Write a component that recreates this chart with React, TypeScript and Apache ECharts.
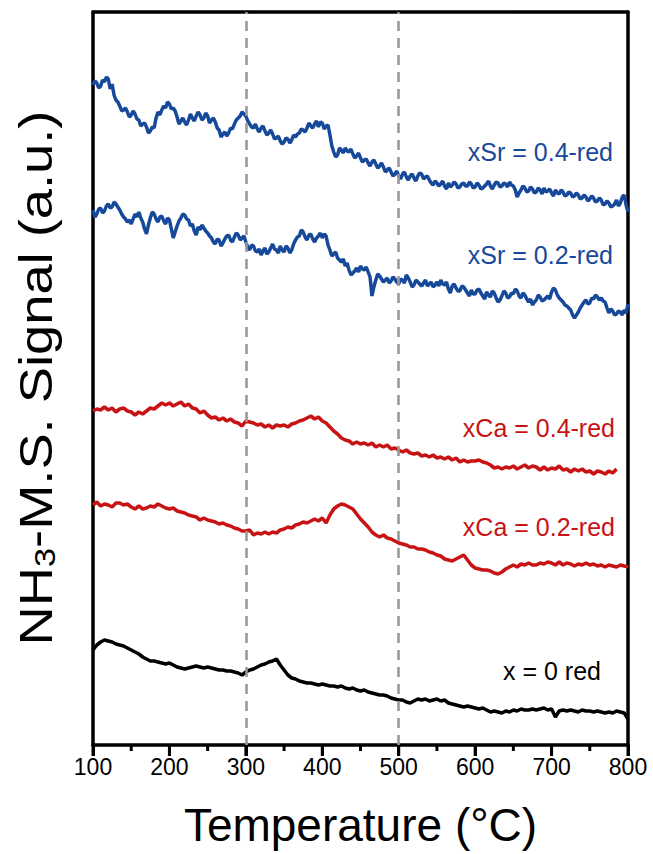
import React, { useEffect, useRef } from "react";
import * as echarts from "echarts";

// Temperature grids (°C)
const tStart = 100;
const blueStep = 2.5;
const redStep = 5;

// Signal values (a.u., vertically offset as plotted)
const sr04 = [
  660, 664, 662, 657, 659, 665, 663, 668, 666, 656, 661, 650, 645, 643, 639, 634, 635, 637, 633, 628,
  630, 634, 631, 626, 625, 619, 621, 622, 618, 612, 614, 618, 617, 627, 633, 630, 635, 639, 637, 643,
  641, 636, 637, 634, 628, 621, 624, 627, 623, 620, 625, 631, 627, 624, 629, 633, 630, 625, 627, 632,
  629, 622, 625, 627, 623, 617, 615, 608, 611, 613, 609, 612, 617, 616, 621, 625, 627, 629, 633, 631,
  629, 624, 621, 618, 617, 621, 616, 613, 617, 619, 614, 610, 612, 615, 611, 606, 607, 609, 604, 601,
  603, 607, 606, 602, 605, 610, 608, 611, 612, 616, 615, 613, 617, 622, 619, 617, 621, 624, 618, 623,
  622, 616, 619, 620, 610, 599, 593, 588, 590, 597, 595, 592, 597, 594, 593, 596, 591, 587, 589, 592,
  587, 583, 585, 586, 582, 579, 583, 585, 581, 577, 579, 582, 578, 573, 575, 577, 573, 569, 571, 574,
  569, 566, 571, 573, 568, 565, 569, 571, 567, 564, 569, 572, 571, 566, 568, 569, 565, 562, 560, 564,
  562, 559, 561, 564, 559, 556, 562, 558, 560, 563, 561, 557, 558, 561, 562, 559, 559, 563, 561, 557,
  558, 562, 560, 556, 557, 559, 561, 564, 559, 556, 560, 563, 562, 558, 559, 562, 561, 558, 563, 560,
  559, 555, 548, 552, 555, 559, 557, 553, 554, 558, 556, 552, 553, 557, 555, 551, 557, 553, 554, 556,
  552, 549, 555, 552, 551, 555, 553, 549, 550, 553, 552, 548, 549, 552, 550, 546, 547, 550, 548, 544,
  546, 549, 547, 543, 544, 547, 545, 540, 541, 544, 542, 538, 539, 541, 545, 539, 542, 548, 550, 540,
  533,
];

const sr02 = [
  535, 528, 531, 536, 537, 532, 534, 539, 541, 537, 538, 543, 541, 538, 535, 531, 528, 526, 523, 525,
  521, 526, 531, 528, 533, 527, 523, 516, 511, 520, 527, 533, 531, 526, 523, 528, 529, 524, 521, 527,
  525, 516, 507, 513, 519, 524, 527, 531, 530, 526, 525, 519, 521, 514, 510, 518, 515, 520, 517, 514,
  512, 509, 507, 503, 501, 506, 505, 499, 502, 506, 509, 510, 505, 503, 508, 512, 510, 505, 507, 509,
  503, 498, 495, 500, 499, 494, 493, 496, 490, 494, 497, 491, 493, 497, 501, 496, 495, 492, 499, 495,
  493, 499, 497, 492, 495, 501, 505, 508, 509, 515, 513, 508, 505, 510, 511, 506, 503, 507, 509, 512,
  507, 511, 509, 500, 495, 489, 491, 493, 487, 485, 483, 486, 479, 482, 475, 470, 472, 474, 477, 473,
  479, 476, 475, 478, 473, 468, 449, 458, 465, 471, 469, 466, 463, 465, 467, 462, 464, 468, 466, 463,
  461, 466, 465, 462, 470, 467, 463, 458, 460, 465, 463, 461, 459, 462, 465, 459, 461, 463, 458, 460,
  463, 459, 465, 461, 460, 463, 456, 452, 459, 461, 457, 454, 454, 459, 458, 455, 452, 449, 455, 451,
  451, 455, 456, 452, 449, 446, 453, 450, 448, 454, 452, 447, 443, 445, 449, 454, 452, 447, 448, 452,
  451, 456, 454, 449, 447, 452, 450, 446, 443, 446, 440, 443, 445, 450, 448, 444, 445, 447, 449, 446,
  453, 457, 455, 450, 447, 445, 443, 440, 439, 437, 435, 430, 427, 430, 433, 437, 440, 443, 445, 441,
  442, 447, 446, 450, 448, 445, 447, 444, 443, 437, 432, 436, 434, 430, 431, 434, 433, 430, 435, 432,
  441,
];

const ca04 = [
  334, 336, 335, 338, 335, 337, 333, 336, 337, 334,
  333, 330, 333, 331, 334, 337, 336, 339, 342, 340,
  342, 339, 341, 343, 339, 341, 337, 336, 332, 334,
  330, 327, 328, 325, 327, 324, 326, 323, 322, 319,
  324, 323, 322, 320, 321, 318, 320, 317, 320, 319,
  320, 318, 321, 322, 324, 325, 327, 329, 326, 328,
  324, 322, 318, 314, 311, 307, 305, 304, 301, 303,
  301, 302, 300, 302, 298, 300, 298, 300, 296, 297,
  295, 293, 295, 292, 291, 292, 289, 290, 288, 290,
  287, 288, 286, 288, 285, 287, 283, 285, 283, 284,
  284, 285, 283, 282, 280, 277, 278, 276, 278, 277,
  279, 276, 278, 280, 277, 279, 278, 275, 278, 275,
  277, 276, 279, 275, 276, 273, 276, 274, 276, 273,
  274, 271, 274, 273, 271, 274, 272, 276,
];

const ca02 = [
  240, 243, 239, 241, 240, 238, 242, 242, 240, 241,
  238, 236, 239, 236, 237, 239, 238, 241, 239, 237,
  236, 237, 234, 233, 232, 230, 229, 228, 225, 227,
  225, 224, 223, 221, 222, 220, 219, 217, 216, 214,
  214, 215, 210, 212, 211, 213, 211, 213, 212, 215,
  216, 218, 217, 220, 221, 223, 222, 224, 226, 224,
  227, 222, 230, 236, 239, 241, 240, 238, 236, 231,
  226, 222, 218, 213, 210, 208, 210, 207, 206, 204,
  202, 201, 200, 198, 198, 196, 196, 195, 193, 192,
  190, 189, 186, 185, 184, 186, 188, 190, 185, 180,
  177, 176, 175, 175, 174, 172, 171, 173, 176, 178,
  180, 178, 181, 180, 182, 180, 180, 182, 181, 183,
  182, 180, 183, 180, 182, 181, 179, 181, 180, 182,
  180, 181, 179, 180, 178, 180, 179, 178, 180, 179,
  178,
];

const x0 = [
  95, 100, 103, 105, 104, 103, 101, 100, 99, 97,
  95, 93, 91, 88, 86, 84, 84, 83, 82, 81,
  82, 80, 78, 77, 76, 77, 78, 79, 78, 77,
  78, 77, 76, 75, 75, 74, 74, 73, 72, 70,
  73, 75, 76, 78, 80, 81, 83, 84, 86, 80,
  75, 70, 67, 66, 64, 63, 62, 62, 61, 60,
  61, 60, 59, 59, 58, 59, 57, 56, 57, 55,
  54, 55, 53, 52, 51, 50, 50, 49, 47, 46,
  45, 45, 43, 42, 44, 46, 45, 46, 44, 45,
  46, 44, 45, 42, 41, 40, 39, 38, 39, 38,
  37, 36, 37, 35, 33, 34, 33, 32, 34, 33,
  35, 34, 36, 35, 35, 36, 35, 36, 37, 35,
  36, 28, 34, 35, 34, 35, 34, 33, 35, 34,
  34, 33, 34, 33, 32, 33, 32, 34, 33, 32,
  26,
];

const seriesNames = ["xSr = 0.4-red", "xSr = 0.2-red", "xCa = 0.4-red", "xCa = 0.2-red", "x = 0 red"];
const seriesColors = ["#17499b", "#17499b", "#c81314", "#c81314", "#000000"];
const seriesSteps = [blueStep, blueStep, redStep, redStep, redStep];
const refTemps = [300, 500];
const xTicks = [100, 200, 300, 400, 500, 600, 700, 800];
const xMinorTicks = [150, 250, 350, 450, 550, 650, 750];

const toPairs = (vals: number[], step: number) => vals.map((v, i) => [tStart + i * step, v]);

const labelPos = [
  { x: 613, y: 152 },
  { x: 613, y: 255 },
  { x: 615, y: 428 },
  { x: 615, y: 527 },
  { x: 601, y: 671 },
];

export default function App() {
  const ref = useRef<HTMLDivElement>(null);
  useEffect(() => {
    if (!ref.current) return;
    const chart = echarts.init(ref.current, null, { renderer: "svg" });
    const allData = [sr04, sr02, ca04, ca02, x0];
    const font = "'Liberation Sans', Arial, sans-serif";
    const frameLine = { show: true, onZero: false, lineStyle: { color: "#000", width: 3.5 } };
    const series: any[] = allData.map((d, i) => ({
      name: seriesNames[i],
      type: "line",
      data: toPairs(d, seriesSteps[i]),
      showSymbol: false,
      symbol: "none",
      lineStyle: { color: seriesColors[i], width: 3.5 },
      itemStyle: { color: seriesColors[i] },
      z: 3,
    }));
    series.push({
      type: "line",
      data: [],
      z: 4,
      markLine: {
        silent: true,
        symbol: ["none", "none"],
        label: { show: false },
        lineStyle: { color: "#999999", type: [10, 7], width: 2.6 },
        data: refTemps.map((t) => ({ xAxis: t })),
      },
    });
    const textElements: any[] = [
      ...seriesNames.map((n, i) => ({
        type: "text",
        x: labelPos[i].x,
        y: labelPos[i].y,
        style: {
          text: n,
          fill: seriesColors[i],
          font: `25px ${font}`,
          align: "right",
          verticalAlign: "middle",
        },
        z: 10,
      })),
      {
        type: "text",
        x: 36,
        y: 378,
        rotation: Math.PI / 2,
        scaleX: 1.18,
        style: {
          text: "{a|NH}{s|3}{a|-M.S. Signal (a.u.)}",
          align: "center",
          verticalAlign: "middle",
          fill: "#000",
          rich: {
            a: { fontSize: 46, fontFamily: font, fill: "#000" },
            s: { fontSize: 29, fontFamily: font, fill: "#000", verticalAlign: "bottom" },
          },
        },
        z: 10,
      },
    ];
    chart.setOption({
      animation: false,
      grid: { left: 93, right: 25, top: 12, bottom: 109 },
      xAxis: [
        {
          type: "value",
          position: "bottom",
          min: xTicks[0],
          max: xTicks[xTicks.length - 1],
          interval: 100,
          axisLine: frameLine,
          axisTick: { show: true, length: 11, lineStyle: { color: "#000", width: 3 } },
          splitLine: { show: false },
          axisLabel: { show: true, fontSize: 23, color: "#000", fontFamily: font, margin: 10 },
          name: "Temperature (°C)",
          nameLocation: "middle",
          nameGap: 57,
          nameTextStyle: { fontSize: 46, color: "#000", fontFamily: font },
        },
        {
          type: "value",
          position: "top",
          min: xTicks[0],
          max: xTicks[xTicks.length - 1],
          interval: 100,
          axisLine: frameLine,
          axisTick: { show: false },
          axisLabel: { show: false },
          splitLine: { show: false },
        },
      ],
      yAxis: [
        {
          type: "value",
          position: "left",
          min: 0,
          max: 733,
          axisLine: frameLine,
          axisTick: { show: false },
          axisLabel: { show: false },
          splitLine: { show: false },
        },
        {
          type: "value",
          position: "right",
          min: 0,
          max: 733,
          axisLine: frameLine,
          axisTick: { show: false },
          axisLabel: { show: false },
          splitLine: { show: false },
        },
      ],
      series,
      graphic: textElements,
    });
    // Tick marks placed through the x scale (major and minor)
    const tickEls: any[] = [];
    const addTicks = (temps: number[], len: number) => {
      temps.forEach((t) => {
        const p = chart.convertToPixel({ xAxisIndex: 0, yAxisIndex: 0 }, [t, 0]) as number[];
        if (p && isFinite(p[0]) && isFinite(p[1])) {
          tickEls.push({
            type: "rect",
            shape: { x: p[0] - 1.5, y: p[1], width: 3, height: len },
            style: { fill: "#000" },
            z: 20,
          });
        }
      });
    };
    addTicks(xTicks, 11);
    addTicks(xMinorTicks, 6);
    chart.setOption({ graphic: [...textElements, ...tickEls] });
    return () => chart.dispose();
  }, []);
  return (
    <div
      ref={ref}
      style={{ position: "fixed", left: 0, top: 0, width: 653, height: 854, background: "#fff" }}
    />
  );
}
